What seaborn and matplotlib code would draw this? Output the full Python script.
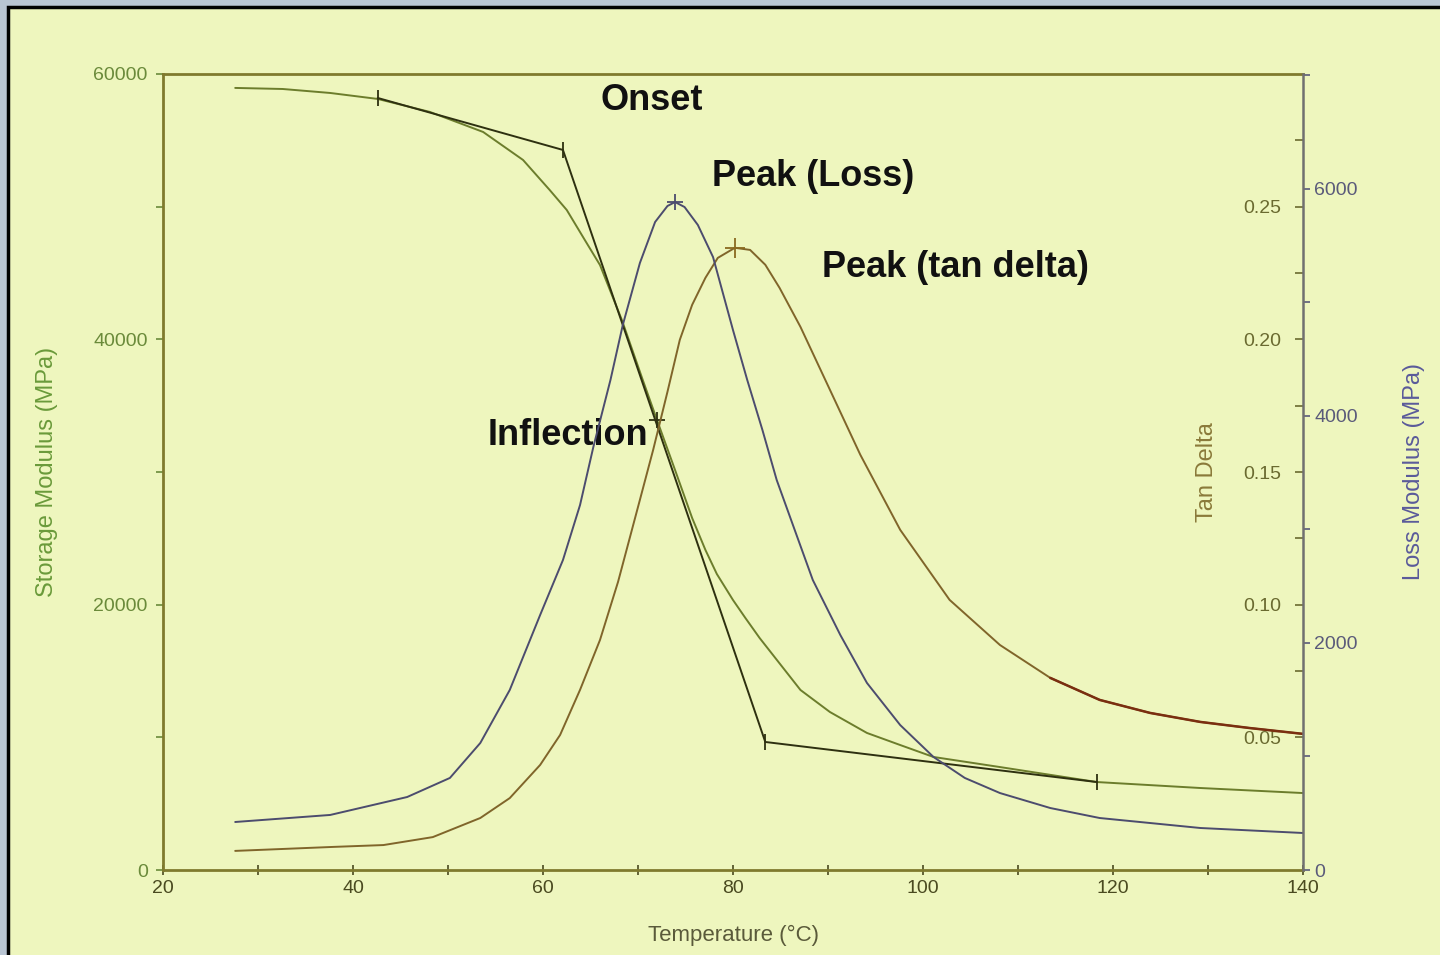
import matplotlib
matplotlib.use("Agg")
import matplotlib.pyplot as plt
import matplotlib.patches as patches
from matplotlib.ticker import MultipleLocator, FixedLocator, FormatStrFormatter
import seaborn as sns

# Data (temperature in degC)
storage_temp = [27.6, 32.6, 37.6, 42.6, 48.1, 53.7, 57.9, 60.7, 62.5, 64.4, 66.0, 68.3,
                70.5, 72.0, 73.9, 75.7, 77.1, 78.3, 80.0, 81.3, 82.8, 87.1, 90.2, 94.1,
                97.6, 101.1, 108.1, 118.3, 129.2, 140.0]
storage_mpa = [58950, 58870, 58570, 58120, 57140, 55630, 53520, 51260, 49750, 47490, 45600,
               41460, 36940, 33920, 30150, 26530, 24120, 22310, 20350, 19000, 17490, 13570,
               11910, 10330, 9420, 8520, 7760, 6630, 6180, 5800]

loss_temp = [27.6, 37.6, 45.7, 50.2, 53.4, 56.5, 59.7, 62.1, 63.9, 65.3, 67.1, 68.4, 70.2,
             71.8, 73.1, 73.9, 74.9, 76.3, 77.9, 80.0, 81.5, 83.1, 84.6, 86.5, 88.4, 91.3,
             94.1, 97.6, 101.1, 104.4, 108.1, 113.4, 118.6, 129.2, 140.0]
loss_mpa = [423, 485, 643, 811, 1119, 1586, 2247, 2731, 3216, 3727, 4317, 4802, 5348,
            5709, 5850, 5885, 5841, 5683, 5400, 4757, 4317, 3876, 3436, 2995, 2555, 2070,
            1648, 1277, 996, 811, 678, 546, 458, 370, 326]

tan_temp = [27.6, 37.9, 43.2, 48.4, 53.4, 56.5, 59.7, 61.8, 63.9, 66.0, 67.9, 70.2, 71.6,
            73.1, 74.4, 75.7, 77.1, 78.4, 80.2, 81.8, 83.4, 84.9, 87.1, 90.2, 93.4, 97.6,
            102.8, 108.1, 113.4, 118.6, 123.9, 129.2, 134.4, 140.0]
tan_delta = [0.0072, 0.0087, 0.0094, 0.0124, 0.0196, 0.0271, 0.0396, 0.0509, 0.0679, 0.0867,
             0.1086, 0.1395, 0.1584, 0.1802, 0.1998, 0.2130, 0.2232, 0.2307, 0.2345, 0.2337,
             0.2281, 0.2194, 0.2047, 0.1810, 0.1565, 0.1282, 0.1018, 0.0848, 0.0724, 0.0641,
             0.0592, 0.0558, 0.0535, 0.0513]

# onset tangent construction (storage modulus units)
tangent_temp = [42.6, 62.1, 83.4, 118.3]
tangent_mpa = [58195, 54275, 9650, 6630]
inflection = (72.0, 33920)
loss_peak = (73.9, 5885)
tan_peak = (80.2, 0.2345)

bg = "#eef6be"
sns.set_style("ticks")
plt.rcParams["font.family"] = ["Liberation Sans", "DejaVu Sans"]

fig = plt.figure(figsize=(14.4, 9.55), dpi=100, facecolor="#b9c5d3")
fig.patches.append(patches.Rectangle((8 / 1440, -0.01), 1.02, 1 - 7 / 955 + 0.01,
                                     transform=fig.transFigure, facecolor=bg,
                                     edgecolor="black", linewidth=2.5, zorder=-5))

ax = fig.add_axes([163 / 1440, 85 / 955, 1140 / 1440, 796 / 955])
ax.set_facecolor(bg)
ax2 = ax.twinx()
ax3 = ax.twinx()
for a in (ax2, ax3):
    a.patch.set_alpha(0)

green = "#6c7d2c"
blue = "#4c4c6e"
brown = "#80652a"

sns.lineplot(x=storage_temp, y=storage_mpa, ax=ax, color=green, lw=1.4)
ax.plot(tangent_temp, tangent_mpa, color="#2e3010", lw=1.4, marker="|", ms=12, mew=1.3)
ax.plot(*inflection, marker="+", color="#2e3010", ms=12, mew=1.3)

sns.lineplot(x=tan_temp, y=tan_delta, ax=ax2, color=brown, lw=1.4)
tail_t = [t for t in tan_temp if t >= 113]
tail_v = [v for t, v in zip(tan_temp, tan_delta) if t >= 113]
ax2.plot(tail_t, tail_v, color="#7a2e10", lw=1.8)
ax2.plot(*tan_peak, marker="+", color="#8a6a20", ms=14, mew=1.3)

sns.lineplot(x=loss_temp, y=loss_mpa, ax=ax3, color=blue, lw=1.4)
ax3.plot(*loss_peak, marker="+", color=blue, ms=12, mew=1.3)

# x axis
ax.set_xlim(20, 140)
ax.xaxis.set_major_locator(MultipleLocator(20))
ax.xaxis.set_minor_locator(MultipleLocator(10))
ax.tick_params(axis="x", which="both", direction="inout", length=7, width=1.2,
               colors="#4a4a20", labelsize=14, pad=4)
ax.set_xlabel("Temperature (°C)", fontsize=16, color="#5a5a3a", labelpad=20)

# storage modulus
ax.set_ylim(0, 60000)
ax.yaxis.set_major_locator(MultipleLocator(20000))
ax.yaxis.set_minor_locator(MultipleLocator(10000))
ax.tick_params(axis="y", which="both", direction="out", length=5, width=1.2,
               colors="#6a8a3a", labelsize=14, pad=6)
ax.set_ylabel("Storage Modulus (MPa)", fontsize=17, color="#6a9a3a")
ax.yaxis.set_label_coords(-0.092, 0.5)

# tan delta (labels inside the right spine)
ax2.set_ylim(0, 0.30)
ax2.yaxis.set_major_locator(FixedLocator([0.05, 0.10, 0.15, 0.20, 0.25]))
ax2.yaxis.set_minor_locator(FixedLocator([0.075, 0.125, 0.175, 0.225, 0.275]))
ax2.yaxis.set_major_formatter(FormatStrFormatter("%.2f"))
ax2.tick_params(axis="y", which="both", direction="in", length=6, width=1.2,
                colors="#6a6a30", labelsize=14, pad=-16)
plt.setp(ax2.get_yticklabels(), ha="right")
ax2.set_ylabel("Tan Delta", fontsize=17, color="#8a7a3a", rotation=90)
ax2.yaxis.set_label_coords(0.906, 0.5)

# loss modulus
ax3.set_ylim(0, 7013)
ax3.yaxis.set_major_locator(MultipleLocator(2000))
ax3.yaxis.set_minor_locator(MultipleLocator(1000))
ax3.tick_params(axis="y", which="both", direction="out", length=5, width=1.2,
                colors="#5a5a7a", labelsize=14, pad=3)
ax3.set_ylabel("Loss Modulus (MPa)", fontsize=17, color="#5a5a9a", rotation=90)
ax3.yaxis.set_label_coords(1.088, 0.5)

for a in (ax, ax2, ax3):
    for s in a.spines.values():
        s.set_visible(False)
for s in ("left", "bottom", "top"):
    ax.spines[s].set_visible(True)
    ax.spines[s].set_color("#7f7a2e")
    ax.spines[s].set_linewidth(2)
ax3.spines["right"].set_visible(True)
ax3.spines["right"].set_color("#707070")
ax3.spines["right"].set_linewidth(1.8)

# annotations
ann = dict(fontsize=26, fontweight="bold", color="#111111", ha="left", va="center")
ax.text(66.0, 57970, "Onset", **ann)
ax.text(77.8, 52310, "Peak (Loss)", **ann)
ax.text(89.4, 45380, "Peak (tan delta)", **ann)
ax.text(54.2, 32715, "Inflection", **ann)

fig.savefig("out.png", dpi=100, facecolor=fig.get_facecolor())
